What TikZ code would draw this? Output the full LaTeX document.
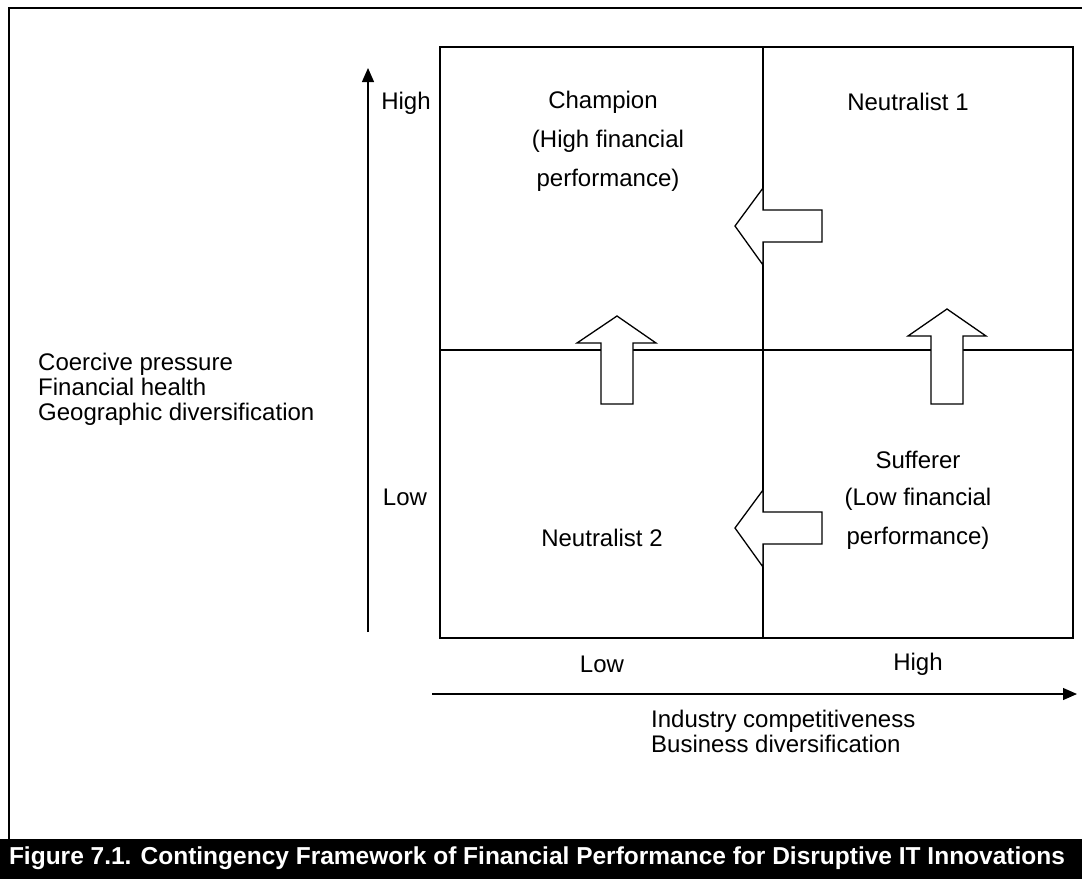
\documentclass[tikz,border=0pt]{standalone}
\usepackage{fontspec}
\setmainfont{Liberation Sans}
\usetikzlibrary{arrows.meta}
\begin{document}
\begin{tikzpicture}[x=1pt,y=-1pt,
  lbl/.style={font=\fontsize{24}{28}\selectfont, inner sep=0pt, align=center},
  lbll/.style={font=\fontsize{24}{25}\selectfont, inner sep=0pt, align=left, anchor=west},
  grid/.style={line width=1.6pt},
  fatarrow/.style={fill=white, draw=black, line width=1.3pt, line join=miter},
  axis/.style={line width=1.2pt, -{Triangle[length=14pt,width=12pt]}}]
\useasboundingbox (0,0) rectangle (1082,879);
% outer frame
\draw[line width=2pt] (8.5,839) -- (8.5,7.5) -- (1082,7.5);
% caption bar
\fill[black] (0,839) rectangle (1082,879);
\node[font=\fontsize{24.5}{28}\selectfont\bfseries, text=white, inner sep=0pt] (cap) at (537,858)
  {Figure 7.1. Contingency Framework of Financial Performance for Disruptive IT Innovations};
% grid
\coordinate (tl) at (440,47);
\coordinate (br) at (1073,638);
\draw[grid] (tl) rectangle (br);
\draw[grid] (763,47) -- (763,638);
\draw[grid] (440,350) -- (1073,350);
% axes
\coordinate (va0) at (368,632);
\coordinate (va1) at (368,68);
\draw[axis] (va0) -- (va1);
\coordinate (ha0) at (432,694);
\coordinate (ha1) at (1077,694);
\draw[axis] (ha0) -- (ha1);
% fat arrows
\draw[fatarrow] (735,226) -- (763,188) -- (763,210) -- (822,210) -- (822,242) -- (763,242) -- (763,265) -- cycle;
\draw[fatarrow] (735,528) -- (763,490) -- (763,512) -- (822,512) -- (822,544) -- (763,544) -- (763,567) -- cycle;
\draw[fatarrow] (617,316) -- (656,343) -- (633,343) -- (633,404) -- (601,404) -- (601,343) -- (577,343) -- cycle;
\draw[fatarrow] (947,309) -- (986,336) -- (963,336) -- (963,404) -- (931,404) -- (931,336) -- (908,336) -- cycle;
% labels
\node[lbl] (yhigh) at (406,103) {High};
\node[lbl] (ylow) at (405,497) {Low};
\node[lbll] (ytitle) at (38,389) {Coercive pressure\\Financial health\\Geographic diversification};
\node[lbl] (champ) at (603,102) {Champion};
\node[lbl] (champ2) at (608,141) {(High financial};
\node[lbl] (champ3) at (608,180) {performance)};
\node[lbl] (n1) at (908,102) {Neutralist 1};
\node[lbl] (n2) at (602,538) {Neutralist 2};
\node[lbl] (suf) at (918,460) {Sufferer};
\node[lbl] (suf2) at (918,499) {(Low financial};
\node[lbl] (suf3) at (918,538) {performance)};
\node[lbl] (xlow) at (602,664) {Low};
\node[lbl] (xhigh) at (918,664) {High};
\node[lbll, anchor=north west] (xtitle) at (651,710) {Industry competitiveness\\Business diversification};
\end{tikzpicture}
\end{document}
